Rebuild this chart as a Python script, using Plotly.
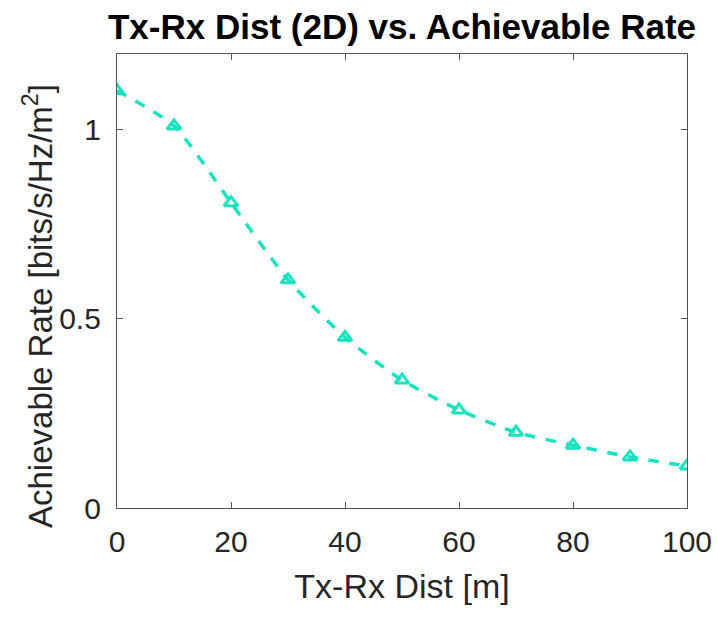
import plotly.graph_objects as go

dist_m = [0, 10, 20, 30, 40, 50, 60, 70, 80, 90, 100]
rate = [1.103, 1.01, 0.807, 0.603, 0.451, 0.338, 0.259, 0.200, 0.166, 0.135, 0.111]
x_ticks = [0, 20, 40, 60, 80, 100]
y_ticks = [0, 0.5, 1]
y_tick_labels = ["0", "0.5", "1"]

color = "#19E3BE"
FONT = "Liberation Sans, Arial, sans-serif"

W, H = 717, 618
L, R, T, B = 117, 30, 54, 110
PW, PH = W - L - R, H - T - B

fig = go.Figure()
fig.add_trace(go.Scatter(
    x=dist_m, y=rate, mode="lines+markers",
    line=dict(color=color, width=3.5, dash="dash", shape="spline", smoothing=0.6),
    marker=dict(symbol="triangle-up-open", size=12, color=color, line=dict(width=3, color=color)),
    showlegend=False,
))

axis_common = dict(
    showline=True, linecolor="#555555", linewidth=1.2, mirror="ticks",
    ticks="inside", ticklen=6, tickcolor="#555555", showgrid=False, zeroline=False,
    tickfont=dict(family=FONT, size=30, color="#262626"),
    ticklabeloverflow="allow",
)

fig.update_layout(
    width=W, height=H,
    margin=dict(l=L, r=R, t=T, b=B, autoexpand=False),
    paper_bgcolor="white", plot_bgcolor="white",
    title=dict(text="<b>Tx-Rx Dist (2D) vs. Achievable Rate</b>", x=(L + PW / 2) / W, xanchor="center",
               y=1 - 27 / H, yanchor="middle",
               font=dict(family=FONT, size=35, color="black")),
    xaxis=dict(range=[0, 100], tickvals=x_ticks, ticklabelstandoff=7,
               title=dict(text="Tx-Rx Dist [m]", font=dict(family=FONT, size=34, color="#262626"), standoff=17),
               **axis_common),
    yaxis=dict(range=[0, 1.2], tickvals=y_ticks, ticktext=y_tick_labels, ticklabelstandoff=9,
               **axis_common),
    annotations=[dict(
        text="Achievable Rate [bits/s/Hz/m<sup>2</sup>]", textangle=-90,
        xref="paper", yref="paper", x=(38 - L) / PW, y=(T + PH - 306) / PH,
        xanchor="center", yanchor="middle", showarrow=False,
        font=dict(family=FONT, size=33, color="#262626"),
    )],
)

fig.write_html("out.html", config={"displayModeBar": False},
               post_script="document.body.style.margin='0';document.documentElement.style.overflow='hidden';")
